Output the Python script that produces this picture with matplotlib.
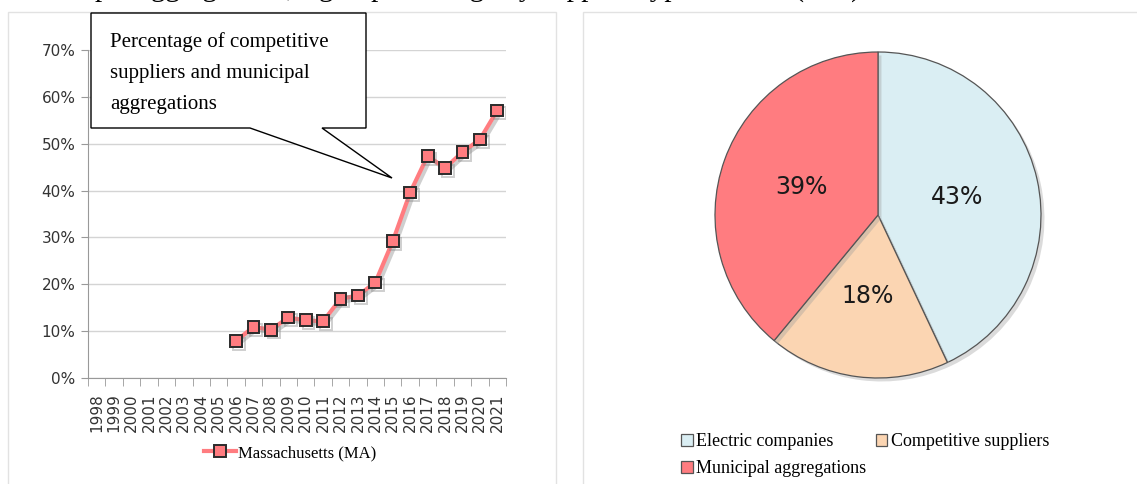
import numpy as np
import matplotlib
matplotlib.use("Agg")
import matplotlib.pyplot as plt
import matplotlib.patheffects as pe
from matplotlib.patches import Rectangle, Polygon
from matplotlib.lines import Line2D

# data
years = [str(y) for y in range(1998, 2022)]
ma_years = [str(y) for y in range(2006, 2022)]
ma_share = [7.9, 10.9, 10.3, 12.9, 12.3, 12.1, 16.9, 17.6, 20.4, 29.2, 39.6,
            47.4, 44.8, 48.2, 50.9, 57.1]
pie_labels = ["Electric companies", "Competitive suppliers", "Municipal aggregations"]
pie_values = [43, 18, 39]
pie_colors = ["#DAEEF3", "#FBD5B2", "#FF7C80"]
callout_lines = ["Percentage of competitive", "suppliers and municipal", "aggregations"]

W, H = 1137, 484
serif = "Liberation Serif"

fig = plt.figure(figsize=(W / 100, H / 100), dpi=100)
fig.patch.set_facecolor("white")

def fx(px):
    return px / W

def fy(py):
    return 1 - py / H

# caption cut off at the top of the picture
fig.text(fx(14), fy(-4), "municipal aggregations, right: percentage by supplier type in 2021 (MA)",
         fontsize=21, family=serif, va="baseline", ha="left")

# panel frames
fig.add_artist(Rectangle((fx(8), fy(490)), fx(556) - fx(8), fy(12) - fy(490),
                         transform=fig.transFigure, fill=False, ec="#e2e2e2", lw=1))
fig.add_artist(Rectangle((fx(583), fy(490)), fx(1140) - fx(583), fy(12) - fy(490),
                         transform=fig.transFigure, fill=False, ec="#e2e2e2", lw=1))

# ---- left: line chart
ax = fig.add_axes([fx(88), fy(378), fx(506) - fx(88), fy(50) - fy(378)])
xpos = [years.index(y) for y in ma_years]
shadow = [pe.SimpleLineShadow(offset=(2, -2), shadow_color="#888888", alpha=0.4), pe.Normal()]
ax.plot(xpos, np.array(ma_share) / 100, color="#FF7C80", lw=3, marker="s", ms=8.5,
        mfc="#FF7C80", mec="#2b2b2b", mew=1.4, path_effects=shadow, zorder=3)

ax.set_xlim(-0.5, len(years) - 0.5)
ax.set_ylim(0, 0.7)
ax.set_yticks(np.arange(0, 0.71, 0.1))
ax.set_yticklabels([f"{int(round(v * 100))}%" for v in np.arange(0, 0.71, 0.1)])
ax.set_xticks(range(len(years)))
ax.set_xticklabels(years, rotation=90)
ax.set_xticks(np.arange(-0.5, len(years)), minor=True)
ax.tick_params(axis="x", which="major", length=0, pad=11, labelsize=11, labelcolor="#333333")
ax.tick_params(axis="x", which="minor", length=6, color="#999999", direction="out")
ax.tick_params(axis="y", length=5, color="#999999", labelsize=11, labelcolor="#333333", pad=4)
ax.grid(axis="y", color="#d4d4d4", lw=1)
ax.set_axisbelow(True)
for s in ["top", "right"]:
    ax.spines[s].set_visible(False)
for s in ["left", "bottom"]:
    ax.spines[s].set_color("#999999")

# callout box
callout = Polygon([(fx(91), fy(13)), (fx(366), fy(13)), (fx(366), fy(128)), (fx(322), fy(128)),
                   (fx(392), fy(178)), (fx(250), fy(128)), (fx(91), fy(128))],
                  closed=True, transform=fig.transFigure, fc="white", ec="black", lw=1, zorder=5)
fig.add_artist(callout)
for i, line in enumerate(callout_lines):
    fig.text(fx(110), fy(47 + 31 * i), line, fontsize=15, family=serif,
             va="baseline", ha="left", zorder=6)

handle = Line2D([], [], color="#FF7C80", lw=3, marker="s", ms=8.5, mfc="#FF7C80",
                mec="#2b2b2b", mew=1.4)
fig.legend([handle], ["Massachusetts (MA)"], loc="center", bbox_to_anchor=(fx(290), fy(453)),
           frameon=False, prop={"family": serif, "size": 12}, handlelength=1.9, handletextpad=0.1)

# ---- right: pie chart
r = 163
pax = fig.add_axes([fx(878 - r), fy(215 + r), fx(2 * r), (2 * r) / H])
wshadow = [pe.SimplePatchShadow(offset=(2.5, -2.5), shadow_rgbFace="#999999", alpha=0.35), pe.Normal()]
wedges, texts, autotexts = pax.pie(
    pie_values, colors=pie_colors, startangle=90, counterclock=False,
    autopct=lambda p: f"{p:.0f}%", pctdistance=0.5,
    wedgeprops={"edgecolor": "#555555", "linewidth": 0.9, "path_effects": wshadow},
    textprops={"fontsize": 17, "color": "#1a1a1a"})
pax.set_xlim(-1, 1)
pax.set_ylim(-1, 1)
pax.set_aspect("equal")

order = [0, 2, 1]
fig.legend([Rectangle((0, 0), 1, 1, fc=pie_colors[i], ec="#555555", lw=0.9) for i in order],
           [pie_labels[i] for i in order], ncol=2, loc="upper left",
           bbox_to_anchor=(fx(672), fy(424)), frameon=False,
           prop={"family": serif, "size": 13}, handlelength=0.65, handleheight=0.65,
           handletextpad=0.2, columnspacing=0.5, labelspacing=0.55, borderpad=0)

fig.savefig("out.png", dpi=100, facecolor="white")
